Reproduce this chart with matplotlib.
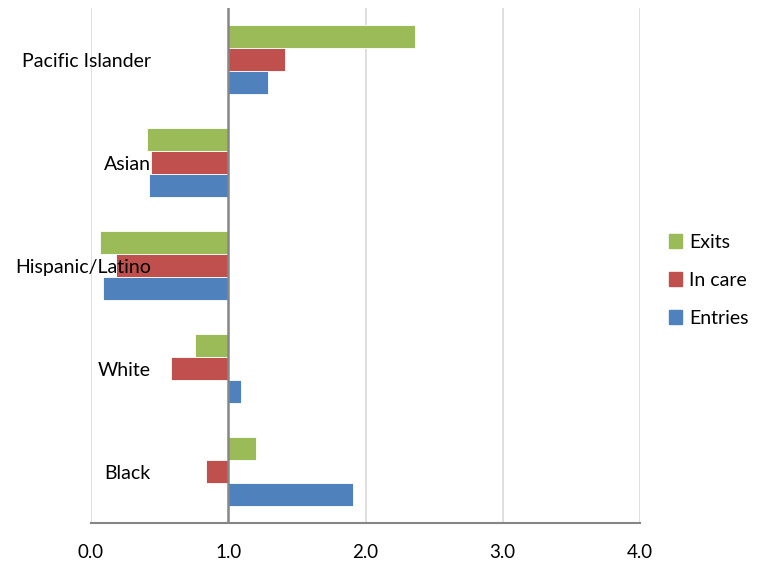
import matplotlib
matplotlib.use("Agg")
import matplotlib.pyplot as plt
import matplotlib.transforms as mtransforms
from matplotlib.patches import Patch
import numpy as np

categories = ["Black", "White", "Hispanic/Latino", "Asian", "Pacific Islander"]
entries = [1.91, 1.09, 0.09, 0.42, 1.29]
in_care = [0.84, 0.58, 0.18, 0.44, 1.41]
exits = [1.20, 0.76, 0.065, 0.41, 2.36]
xticks = [0.0, 1.0, 2.0, 3.0, 4.0]
baseline = 1.0

c_entries = "#4F81BD"
c_care = "#C0504D"
c_exits = "#9BBB59"

plt.rcParams['font.family'] = ['Lato', 'DejaVu Sans']

fig = plt.figure(figsize=(7.61, 5.64), dpi=100)
ax = fig.add_axes([91/761, 1-523/564, (640-91)/761, (523-8)/564])

y = np.arange(len(categories))
h = 0.224
edge = dict(edgecolor="#FFFFFF", linewidth=0.6)
ax.barh(y - h, np.array(entries) - baseline, left=baseline, height=h, color=c_entries, zorder=3, **edge)
ax.barh(y, np.array(in_care) - baseline, left=baseline, height=h, color=c_care, zorder=3, **edge)
ax.barh(y + h, np.array(exits) - baseline, left=baseline, height=h, color=c_exits, zorder=3, **edge)

ax.set_xlim(0, 4)
ax.set_ylim(-0.5, len(categories) - 0.5)
ax.set_xticks(xticks)
ax.set_xticklabels([f"{t:.1f}" for t in xticks], fontsize=13.5, color="#000000")
ax.tick_params(axis='x', length=0, pad=15)
ax.set_yticks([])
for t in xticks:
    if t != baseline:
        ax.axvline(t, color="#D9D9D9", lw=1.2, zorder=1)
ax.axvline(baseline, color="#868686", lw=1.8, zorder=4)

for s in ["top", "right", "left"]:
    ax.spines[s].set_visible(False)
ax.spines["bottom"].set_color("#868686")
ax.spines["bottom"].set_linewidth(1.5)

trans = mtransforms.blended_transform_factory(ax.transAxes, ax.transData)
for yi, cat in zip(y, categories):
    ax.text((151-91)/549, yi - 0.02, cat, transform=trans, ha="right", va="center",
            fontsize=14, color="#000000", zorder=5)

handles = [Patch(color=c_exits, label="Exits"),
           Patch(color=c_care, label="In care"),
           Patch(color=c_entries, label="Entries")]
fig.legend(handles=handles, loc="center left", bbox_to_anchor=(651/761, 1-280/564),
           frameon=False, fontsize=14, handlelength=0.7, handleheight=0.7,
           handletextpad=0.35, labelspacing=1.08)

fig.savefig("out.png", dpi=100)
